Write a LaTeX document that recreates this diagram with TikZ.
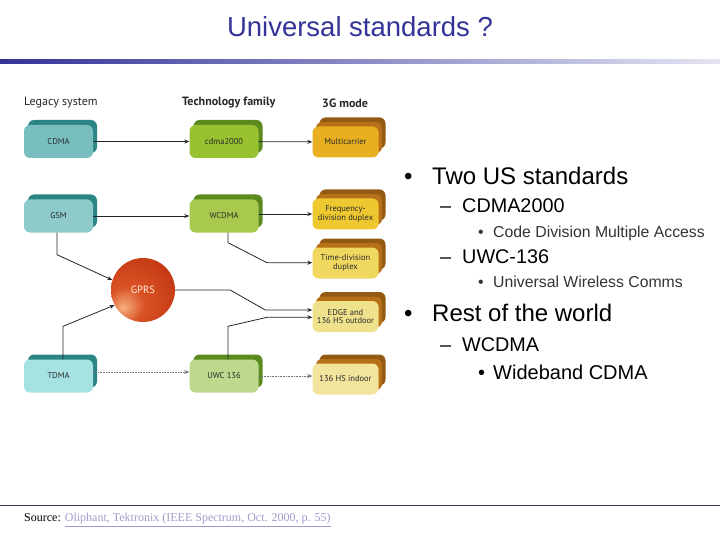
\documentclass[tikz,border=0pt]{standalone}
\usepackage{fontspec}
\setmainfont{Liberation Sans}
\newfontfamily\diagfont{PT Sans}
\newfontfamily\srcfont{Liberation Serif}
\usetikzlibrary{arrows.meta,calc}
\definecolor{titleblue}{HTML}{333399}
\definecolor{lineleft}{HTML}{333399}
\definecolor{lineright}{HTML}{E4E4F2}
\definecolor{botline}{HTML}{3A3A6A}
\definecolor{linkcol}{HTML}{9C9CCC}
\definecolor{legShadow}{HTML}{2B8585}
\definecolor{legA}{HTML}{78BEBE}
\definecolor{legB}{HTML}{8ECACA}
\definecolor{legC}{HTML}{A6E2E2}
\definecolor{techShadow}{HTML}{5B8A1E}
\definecolor{techA}{HTML}{98C230}
\definecolor{techB}{HTML}{A8C84E}
\definecolor{techC}{HTML}{BCD98E}
\definecolor{gShadow}{HTML}{B87018}
\definecolor{gA}{HTML}{E8B020}
\definecolor{gB}{HTML}{EEC830}
\definecolor{gC}{HTML}{F0D860}
\definecolor{gD}{HTML}{F0E28C}
\definecolor{gE}{HTML}{F2E49C}
\definecolor{gpHi}{HTML}{F6B080}
\definecolor{gpMid}{HTML}{DA5226}
\definecolor{gpDark}{HTML}{BC300C}
\definecolor{boxtext}{HTML}{2A2A2A}
\pgfdeclareradialshading{gprsball}{\pgfpoint{-16bp}{-14bp}}{color(0bp)=(gpHi); color(14bp)=(gpMid); color(45bp)=(gpDark); color(80bp)=(gpDark)}
\tikzset{
  stdbox/.style={rounded corners=6pt, minimum width=69pt, minimum height=33pt, inner sep=0pt,
    font=\diagfont\fontsize{8.5}{8.5}\selectfont, text=boxtext, align=center},
  gbox/.style={stdbox, minimum width=66pt, minimum height=31pt},
  hdr/.style={anchor=west, inner sep=0pt, font=\diagfont\fontsize{12}{13}\selectfont, text=black!85},
  hdrb/.style={hdr, font=\diagfont\bfseries\fontsize{12}{13}\selectfont},
  conn/.style={draw=black!85, line width=0.8pt, -{Stealth[length=5pt,width=4pt]}},
  dconn/.style={draw=black!55, line width=0.6pt, densely dotted, -{Stealth[length=5pt,width=4pt]}},
  rtext/.style={anchor=base west, inner sep=0pt},
  lvone/.style={rtext, font=\fontsize{24}{26}\selectfont, text=black},
  lvtwo/.style={rtext, font=\fontsize{19.8}{21}\selectfont, text=black},
  lvthree/.style={rtext, font=\fontsize{15.8}{17}\selectfont, text=black!80},
  lvthreeb/.style={rtext, font=\fontsize{20}{22}\selectfont, text=black},
}
\begin{document}
\begin{tikzpicture}[x=1pt, y=-1pt]
\useasboundingbox (0,0) rectangle (720,540);
% title
\node[font=\fontsize{27.5}{30}\selectfont, text=titleblue] (title) at (360,27) {Universal standards ?};
\shade[left color=lineleft, right color=lineright] (0,60) rectangle (720,64);
% headers
\node[hdr] (h1) at (24,103) {Legacy system};
\node[hdrb] (h2) at (182,103) {Technology family};
\node[hdrb] (h3) at (322,103) {3G mode};
% legacy boxes
\node[stdbox, fill=legShadow] (cdmas) at (62.5,136.5) {};
\node[stdbox, fill=legA] (cdma) at (58.5,141.5) {CDMA};
\node[stdbox, fill=legShadow] (gsms) at (62.5,211) {};
\node[stdbox, fill=legB] (gsm) at (58.5,216) {GSM};
\node[stdbox, fill=legShadow] (tdmas) at (62.5,371) {};
\node[stdbox, fill=legC] (tdma) at (58.5,376) {TDMA};
% technology boxes
\node[stdbox, fill=techShadow] (c2ks) at (228,136.5) {};
\node[stdbox, fill=techA] (c2k) at (224,141.5) {cdma2000};
\node[stdbox, fill=techShadow] (wcdmas) at (228,211) {};
\node[stdbox, fill=techB] (wcdma) at (224,216) {WCDMA};
\node[stdbox, fill=techShadow] (uwcs) at (228,371) {};
\node[stdbox, fill=techC] (uwc) at (224,376) {UWC 136};
% 3G boxes
\foreach \n/\y in {mc/142, fdd/214, tdd/263, edge/316.5, ind/379}{
  \node[gbox, fill=gShadow!80!black] (\n s2) at (352.5,\y-9) {};
  \node[gbox, fill=gShadow] (\n s1) at (349,\y-4.5) {};
}
\node[gbox, fill=gA] (mc) at (345.5,142) {Multicarrier};
\node[gbox, fill=gB] (fdd) at (345.5,214) {Frequency-\\division duplex};
\node[gbox, fill=gC] (tdd) at (345.5,263) {Time-division\\duplex};
\node[gbox, fill=gD] (edge) at (345.5,316.5) {EDGE and\\136 HS outdoor};
\node[gbox, fill=gE] (ind) at (345.5,379) {136 HS indoor};
% GPRS
\node[circle, minimum size=64pt, inner sep=0pt, shade, shading=gprsball, text=white!85!orange,
  font=\diagfont\fontsize{10.5}{11}\selectfont] (gprs) at (143,290) {GPRS};
% connectors
\draw[conn] (cdma) -- (c2k);
\draw[conn] (c2k) -- (mc);
\draw[conn] (gsm) -- (wcdma);
\draw[conn] (wcdma.east |- fdd.west) -- (fdd);
\draw[conn] ([xshift=4pt]wcdma.south) -- ++(0,10) -- ++(39,20) coordinate (w1) -- (w1 -| tdd.west);
\draw[conn] ([xshift=-1.5pt]gsm.south) -- ++(0,22) -- (gprs.162);
\draw[conn] ([xshift=4.5pt]tdma.north) -- ++(0,-33) -- (gprs.208);
\draw[conn] (gprs.east) -- ++(55,0) -- ++(35,20) coordinate (g1) -- (g1 -| edge.west);
\draw[conn] ([xshift=4pt]uwc.north) -- ++(0,-33) -- ++(39,-9) coordinate (u1) -- (u1 -| edge.west);
\draw[dconn] (tdma.east |- 0,372) -- (uwc.west |- 0,372);
\draw[dconn] (uwc.east |- 0,376) -- (ind.west |- 0,376);
% right text
\node[lvone] (b1) at (404,184.5) {•};
\node[lvone] (t1) at (432,184.5) {Two US standards};
\node[lvtwo] (d1) at (440,212.5) {–};
\node[lvtwo] (t2) at (462,212.5) {CDMA2000};
\node[lvthree] (b2) at (478,237.7) {•};
\node[lvthree] (t3) at (493,237.7) {Code Division Multiple Access};
\node[lvtwo] (d2) at (440,263) {–};
\node[lvtwo] (t4) at (462,263) {UWC-136};
\node[lvthree] (b3) at (478,287.7) {•};
\node[lvthree] (t5) at (493,287.7) {Universal Wireless Comms};
\node[lvone] (b4) at (404,321.6) {•};
\node[lvone] (t6) at (432,321.6) {Rest of the world};
\node[lvtwo] (d3) at (440,351) {–};
\node[lvtwo] (t7) at (462,351) {WCDMA};
\node[lvthreeb] (b5) at (478,379.5) {•};
\node[lvthreeb] (t8) at (493,379.5) {Wideband CDMA};
% bottom
\draw[botline, line width=0.8pt] (0,505) -- (720,505);
\node[anchor=west, font=\srcfont\fontsize{12}{13}\selectfont, inner sep=0pt] (src) at (24,520)
  {Source: \textcolor{linkcol}{\underline{Oliphant, Tektronix (IEEE Spectrum, Oct. 2000, p. 55)}}};
\end{tikzpicture}
\end{document}
